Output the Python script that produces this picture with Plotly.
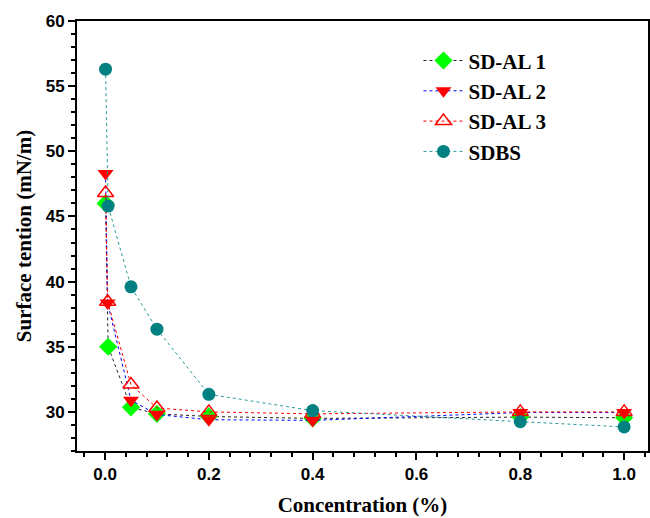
import plotly.graph_objects as go

conc_al1 = [0.001, 0.006, 0.05, 0.1, 0.2, 0.4, 0.8, 1.0]
st_al1 = [46.0, 35.0, 30.35, 29.85, 29.65, 29.5, 29.6, 29.55]

conc_al2 = [0.001, 0.005, 0.05, 0.1, 0.2, 0.4, 0.8, 1.0]
st_al2 = [48.3, 38.35, 30.9, 29.8, 29.4, 29.35, 29.95, 29.95]

conc_al3 = [0.001, 0.005, 0.05, 0.1, 0.2, 0.4, 0.8, 1.0]
st_al3 = [46.8, 38.45, 32.1, 30.3, 30.0, 29.85, 30.0, 30.0]

conc_sdbs = [0.001, 0.006, 0.05, 0.1, 0.2, 0.4, 0.8, 1.0]
st_sdbs = [56.3, 45.8, 39.6, 36.35, 31.35, 30.1, 29.25, 28.85]

names = ["SD-AL 1", "SD-AL 2", "SD-AL 3", "SDBS"]

fig = go.Figure()
fig.add_trace(go.Scatter(
    x=conc_al1, y=st_al1, name=names[0], mode="lines+markers",
    line=dict(color="#222222", width=1, dash="dot"),
    marker=dict(symbol="diamond", size=14, color="#00ff00", line=dict(width=0))))
fig.add_trace(go.Scatter(
    x=conc_al2, y=st_al2, name=names[1], mode="lines+markers",
    line=dict(color="#0000ff", width=1, dash="dot"),
    marker=dict(symbol="triangle-down", size=14, color="#ff0000", line=dict(width=0))))
fig.add_trace(go.Scatter(
    x=conc_al3, y=st_al3, name=names[2], mode="lines+markers",
    line=dict(color="#ff0000", width=1, dash="dot"),
    marker=dict(symbol="triangle-up-open", size=14, color="#ff0000", line=dict(width=1.5))))
fig.add_trace(go.Scatter(
    x=conc_sdbs, y=st_sdbs, name=names[3], mode="lines+markers",
    line=dict(color="#2a9a9a", width=1, dash="dot"),
    marker=dict(symbol="circle", size=13, color="#008080", line=dict(width=0))))

tickfont = dict(family="Liberation Sans", size=17, color="black", weight="bold")
titlefont = dict(family="Liberation Serif", size=21, color="black", weight="bold")

fig.update_layout(
    width=650, height=518,
    margin=dict(l=77, r=0, t=21, b=67),
    paper_bgcolor="white", plot_bgcolor="white",
    showlegend=True,
    legend=dict(x=0.598, y=0.955, xanchor="left", yanchor="top",
                font=dict(family="Liberation Serif", size=21, color="black", weight="bold"),
                bgcolor="rgba(0,0,0,0)", itemwidth=40, tracegroupgap=4),
    xaxis=dict(range=[-0.054, 1.046], tick0=0, dtick=0.2, tickformat=".1f",
               showgrid=False, zeroline=False, showline=True, linecolor="black", linewidth=2,
               mirror=True, ticks="outside", ticklen=7, tickwidth=2, tickcolor="black",
               tickfont=tickfont,
               minor=dict(tick0=0, dtick=0.04, ticks="outside", ticklen=4, tickwidth=1.5, tickcolor="black"),
               title=dict(text="Concentration (%)", font=titlefont, standoff=14)),
    yaxis=dict(range=[27, 60], tick0=0, dtick=5,
               showgrid=False, zeroline=False, showline=True, linecolor="black", linewidth=2,
               mirror=True, ticks="outside", ticklen=7, tickwidth=2, tickcolor="black",
               tickfont=tickfont,
               minor=dict(tick0=0, dtick=1, ticks="outside", ticklen=4, tickwidth=1.5, tickcolor="black"),
               title=dict(text="Surface tention (mN/m)", font=titlefont, standoff=8)),
)

fig.write_html("out.html")
